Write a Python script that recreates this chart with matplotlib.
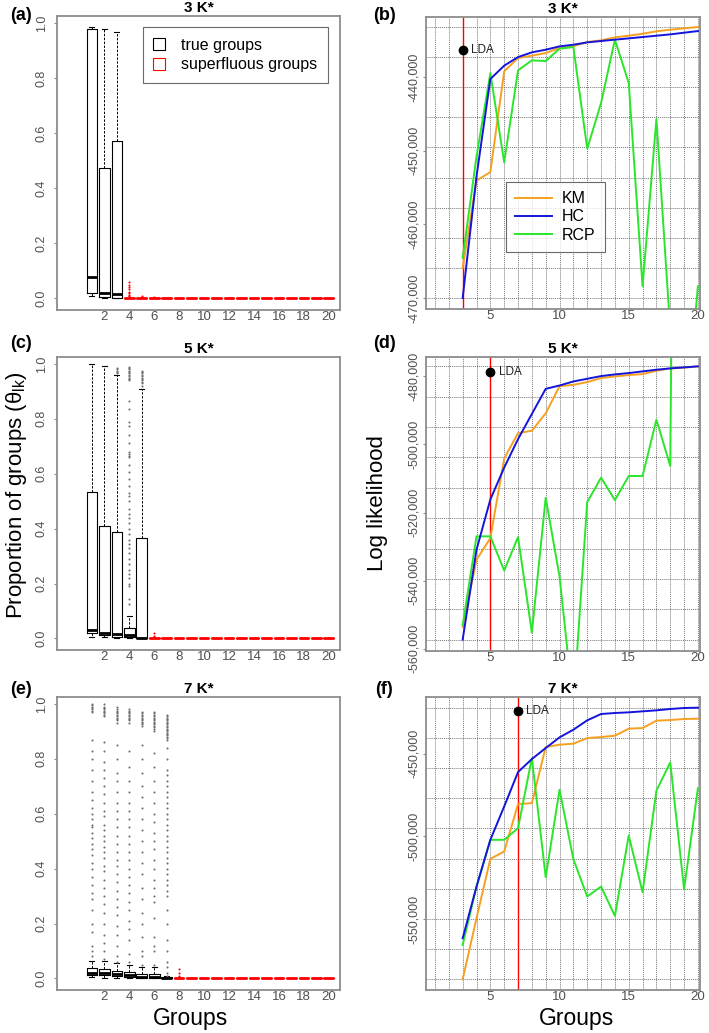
import numpy as np
import matplotlib
matplotlib.use("Agg")
import matplotlib.pyplot as plt
import matplotlib.patches as mpatches
import matplotlib.ticker as mtick

plt.rcParams["font.family"] = ["Liberation Sans", "DejaVu Sans"]
plt.rcParams["mathtext.fontset"] = "custom"
plt.rcParams["mathtext.rm"] = "Liberation Sans"
plt.rcParams["mathtext.it"] = "Liberation Sans"

W, H = 709, 1033

# ---- boxplot data (proportion of groups) ----
A_Q1 = [0.018, 0.005, 0.0]
A_MED = [0.079, 0.018, 0.015]
A_Q3 = [0.979, 0.474, 0.572]
A_LO = [0.008, 0.001, 0.0]
A_HI = [0.985, 0.978, 0.967]
A_FLIERS = [[], [], []]
A_SUP_FLIERS = [[0.004, 0.008, 0.012, 0.018, 0.025, 0.033, 0.042, 0.05, 0.06], [0.005, 0.01], [0.004]]

C_Q1 = [0.02, 0.012, 0.004, 0.004, 0.001]
C_MED = [0.03, 0.02, 0.018, 0.012, 0.002]
C_Q3 = [0.535, 0.41, 0.387, 0.038, 0.365]
C_LO = [0.007, 0.004, 0.0, 0.0, 0.0]
C_HI = [1.0, 0.994, 0.96, 0.083, 0.908]
C_FLIERS = [
    [],
    [],
    [0.965, 0.97, 0.975, 0.98, 0.985],
    [0.99, 0.985, 0.98, 0.975, 0.97, 0.965, 0.96, 0.955, 0.95, 0.945, 0.94, 0.865, 0.836,
     0.787, 0.772, 0.742, 0.713, 0.68, 0.672, 0.665, 0.66, 0.63, 0.606, 0.58, 0.555, 0.53,
     0.52, 0.5, 0.47, 0.455, 0.44, 0.42, 0.4, 0.38, 0.36, 0.345, 0.33, 0.31, 0.29, 0.27,
     0.25, 0.235, 0.22, 0.2, 0.19, 0.145, 0.127],
    [0.92, 0.93, 0.935, 0.94, 0.945, 0.95, 0.955, 0.96, 0.965, 0.97, 0.975],
]
C_SUP_FLIERS = [[0.005, 0.01, 0.02]]

E_Q1 = [0.012, 0.012, 0.009, 0.006, 0.002, 0.0, 0.0]
E_MED = [0.021, 0.021, 0.018, 0.012, 0.006, 0.004, 0.001]
E_Q3 = [0.037, 0.034, 0.028, 0.023, 0.018, 0.018, 0.004]
E_LO = [0.006, 0.002, 0.0, 0.0, 0.0, 0.0, 0.0]
E_HI = [0.065, 0.065, 0.055, 0.05, 0.04, 0.04, 0.008]
E_FLIERS = [
    [0.08, 0.1, 0.12, 0.17, 0.2, 0.25, 0.29, 0.31, 0.34, 0.37, 0.4, 0.42, 0.45, 0.47, 0.49,
     0.51, 0.53, 0.55, 0.56, 0.58, 0.6, 0.62, 0.65, 0.68, 0.72, 0.76, 0.8, 0.83, 0.87,
     0.97, 0.975, 0.98, 0.985, 0.99, 0.995, 1.0],
    [0.07, 0.1, 0.13, 0.16, 0.2, 0.24, 0.27, 0.3, 0.33, 0.36, 0.39, 0.41, 0.44, 0.46, 0.48,
     0.5, 0.52, 0.54, 0.56, 0.59, 0.61, 0.64, 0.67, 0.7, 0.73, 0.76, 0.79, 0.83, 0.86,
     0.955, 0.96, 0.965, 0.97, 0.975, 0.98, 0.985, 0.99, 0.998],
    [0.06, 0.08, 0.12, 0.16, 0.19, 0.23, 0.26, 0.29, 0.32, 0.35, 0.38, 0.41, 0.43, 0.46,
     0.49, 0.52, 0.55, 0.58, 0.61, 0.64, 0.68, 0.72, 0.75, 0.8, 0.85, 0.932, 0.94, 0.945,
     0.95, 0.955, 0.96, 0.965, 0.97, 0.975, 0.98, 0.987],
    [0.06, 0.09, 0.14, 0.18, 0.21, 0.25, 0.28, 0.31, 0.34, 0.37, 0.4, 0.43, 0.46, 0.49,
     0.52, 0.55, 0.58, 0.61, 0.64, 0.68, 0.72, 0.77, 0.83, 0.932, 0.94, 0.945, 0.95, 0.955,
     0.96, 0.965, 0.97, 0.975, 0.98],
    [0.05, 0.08, 0.1, 0.15, 0.2, 0.24, 0.29, 0.33, 0.38, 0.42, 0.46, 0.5, 0.54, 0.58, 0.62,
     0.66, 0.7, 0.75, 0.8, 0.85, 0.92, 0.925, 0.93, 0.935, 0.94, 0.945, 0.95, 0.955, 0.96,
     0.965, 0.97],
    [0.05, 0.1, 0.12, 0.15, 0.22, 0.28, 0.3, 0.33, 0.36, 0.4, 0.43, 0.47, 0.5, 0.53, 0.57,
     0.6, 0.64, 0.68, 0.72, 0.77, 0.82, 0.903, 0.91, 0.915, 0.92, 0.925, 0.93, 0.935, 0.94,
     0.945, 0.95, 0.955, 0.96, 0.965, 0.97],
    [0.01, 0.02, 0.04, 0.06, 0.1, 0.14, 0.2, 0.25, 0.3, 0.32, 0.34, 0.36, 0.38, 0.4, 0.42,
     0.44, 0.46, 0.48, 0.5, 0.52, 0.54, 0.56, 0.58, 0.6, 0.62, 0.64, 0.66, 0.68, 0.7, 0.72,
     0.74, 0.76, 0.8, 0.84, 0.867, 0.875, 0.88, 0.885, 0.89, 0.895, 0.9, 0.905, 0.91,
     0.915, 0.92, 0.925, 0.93, 0.935, 0.94, 0.945, 0.95, 0.955, 0.96],
]
E_SUP_FLIERS = [[0.005, 0.01, 0.02, 0.035]]

# ---- log likelihood data ----
GROUPS = list(range(3, 21))

B_KM = [-465930, -454070, -452900, -439230, -437420, -437100, -436740, -436060, -435830,
        -435250, -435020, -434620, -434390, -434120, -433800, -433570, -433390, -433210]
B_HC = [-470000, -453500, -440270, -438460, -437290, -436650, -436290, -435840, -435610,
        -435300, -435110, -434930, -434750, -434570, -434390, -434210, -433980, -433760]
B_RCP = [-464570, -450800, -439460, -451580, -439100, -437740, -437830, -436150, -435930,
         -449730, -443530, -434930, -440810, -468420, -445700, -474400, -489100, -468400]

D_KM = [-553600, -533900, -527490, -504140, -496650, -495960, -490840, -482860, -482460,
        -481670, -480490, -480000, -479610, -479310, -478330, -477640, -477440, -477040]
D_HC = [-557340, -530930, -516160, -506800, -498420, -491030, -483650, -482660, -481480,
        -480690, -479900, -479410, -479010, -478520, -478030, -477640, -477340, -477040]
D_RCP = [-553100, -527000, -527000, -537040, -527190, -555270, -515660, -538810, -577000,
         -516950, -509750, -516350, -509260, -509260, -492710, -506300, -50000, -50000]

F_KM = [-586290, -549400, -513510, -509070, -480440, -479840, -445970, -444560, -443950,
        -440520, -439920, -439110, -434880, -434480, -430040, -429640, -429030, -428830]
F_HC = [-561490, -530240, -502020, -481850, -461090, -453230, -446570, -440120, -435480,
        -429840, -426010, -425400, -425000, -424390, -423790, -422980, -422380, -422180]
F_RCP = [-565520, -530240, -502020, -502020, -494960, -452620, -524600, -471770, -513710,
         -536290, -530240, -547980, -499400, -533670, -472380, -455240, -531850, -470770]

LDA_K = [3, 5, 7]
LDA_LL = [-436380, -478720, -423990]

TITLES = ["3 K*", "5 K*", "7 K*"]
PANEL_TAGS = [["(a)", "(b)"], ["(c)", "(d)"], ["(e)", "(f)"]]

FRAME = "#8c8c8c"
TICKCOL = "#505050"
KM_COL = "#f5a020"
HC_COL = "#1414dc"
RCP_COL = "#2ae62a"
GRIDCOL = "#777777"

fig = plt.figure(figsize=(W / 100, H / 100), dpi=100)


def px_axes(l, t, r, b):
    return fig.add_axes([l / W, 1 - b / H, (r - l) / W, (b - t) / H])


def frame_style(ax, ypad):
    for s in ax.spines.values():
        s.set_color(FRAME)
        s.set_linewidth(1.3)
    ax.tick_params(axis="x", colors=FRAME, labelcolor=TICKCOL, length=0, pad=1)
    ax.tick_params(axis="y", colors=FRAME, labelcolor=TICKCOL, length=2.5, width=0.8, pad=ypad)
    plt.setp(ax.get_yticklabels(), rotation=90, va="center", ha="right")


def make_stats(q1, med, q3, lo, hi, fliers):
    return [dict(q1=a, med=b, q3=c, whislo=d, whishi=e, fliers=f)
            for a, b, c, d, e, f in zip(q1, med, q3, lo, hi, fliers)]


def draw_box(ax, q1, med, q3, lo, hi, fliers, sup_fliers, title):
    n_true = len(q1)
    true_stats = make_stats(q1, med, q3, lo, hi, fliers)
    n_sup = 20 - n_true
    sup_fl = sup_fliers + [[]] * (n_sup - len(sup_fliers))
    sup_stats = make_stats([0] * n_sup, [0] * n_sup, [0] * n_sup, [0] * n_sup,
                           [0.001] * n_sup, sup_fl)
    for stats, pos, col in [(true_stats, range(1, n_true + 1), "black"),
                            (sup_stats, range(n_true + 1, 21), "red")]:
        ax.bxp(stats, positions=list(pos), widths=0.85, capwidths=0.4,
               boxprops=dict(color=col, lw=0.8),
               medianprops=dict(color=col, lw=2.0),
               whiskerprops=dict(color=col, lw=0.7, linestyle=(0, (2.5, 1.5))),
               capprops=dict(color=col, lw=0.8),
               flierprops=dict(marker="o", markersize=1.5,
                               markerfacecolor="#707070" if col == "black" else "red",
                               markeredgecolor="none"),
               manage_ticks=False)
    ax.set_xlim(-1.8, 20.9)
    ax.set_ylim(-0.042, 1.025)
    ax.set_xticks(range(2, 21, 2))
    ax.set_xticklabels([str(v) for v in range(2, 21, 2)], fontsize=9.5)
    ax.set_yticks([0, 0.2, 0.4, 0.6, 0.8, 1.0])
    ax.set_yticklabels(["0.0", "0.2", "0.4", "0.6", "0.8", "1.0"], fontsize=9)
    frame_style(ax, ypad=4)
    ax.set_title(title, fontsize=11, fontweight="bold", pad=3)


def draw_ll(ax, km, hc, rcp, k, lda, ylim, yticks, title, legend=False):
    ax.set_xlim(0.35, 20.15)
    ax.set_ylim(*ylim)
    for xv in range(1, 21):
        ax.axvline(xv, color=GRIDCOL, lw=0.7, linestyle=(0, (1, 1)), zorder=0)
    lo = min(min(km), min(hc))
    hi = max(max(km), max(hc))
    for yv in np.linspace(lo, hi, 10):
        ax.axhline(yv, color=GRIDCOL, lw=0.7, linestyle=(0, (1, 1)), zorder=0)
    ax.axvline(k, color="red", lw=1.0, zorder=1)
    l1, = ax.plot(GROUPS, km, color=KM_COL, lw=1.4, label="KM", zorder=2)
    l2, = ax.plot(GROUPS, hc, color=HC_COL, lw=1.4, label="HC", zorder=3)
    l3, = ax.plot(GROUPS, rcp, color=RCP_COL, lw=1.4, label="RCP", zorder=2)
    ax.plot([k], [lda], "o", color="black", markersize=6, zorder=4)
    ax.text(k + 0.6, lda, "LDA", fontsize=8.5, va="center", ha="left", color="#222222")
    ax.set_xticks([5, 10, 15, 20])
    ax.set_xticklabels(["5", "10", "15", "20"], fontsize=9.5)
    ax.set_yticks(yticks)
    ax.yaxis.set_major_formatter(mtick.FuncFormatter(lambda v, p: f"{int(round(v)):,}"))
    for lab in ax.get_yticklabels():
        lab.set_fontsize(9)
    frame_style(ax, ypad=1.5)
    ax.set_title(title, fontsize=11, fontweight="bold", pad=3)
    if legend:
        leg = ax.legend(handles=[l1, l2, l3], loc="upper left", bbox_to_anchor=(0.291, 0.436),
                        borderaxespad=0, fontsize=11.5, frameon=True, fancybox=False,
                        edgecolor="#444444", handlelength=2.3, handletextpad=0.6,
                        borderpad=0.6, labelspacing=0.2)
        leg.get_frame().set_linewidth(0.8)


box_pos = [(57, 16, 340, 310), (57, 357, 340, 650), (57, 697, 340, 990)]
ll_pos = [(426, 17, 700, 309), (426, 357, 700, 651), (426, 697, 700, 990)]

ax_a = px_axes(*box_pos[0])
draw_box(ax_a, A_Q1, A_MED, A_Q3, A_LO, A_HI, A_FLIERS, A_SUP_FLIERS, TITLES[0])
ax_c = px_axes(*box_pos[1])
draw_box(ax_c, C_Q1, C_MED, C_Q3, C_LO, C_HI, C_FLIERS, C_SUP_FLIERS, TITLES[1])
ax_e = px_axes(*box_pos[2])
draw_box(ax_e, E_Q1, E_MED, E_Q3, E_LO, E_HI, E_FLIERS, E_SUP_FLIERS, TITLES[2])

h_true = mpatches.Patch(facecolor="none", edgecolor="black", lw=0.8, label="true groups")
h_sup = mpatches.Patch(facecolor="none", edgecolor="red", lw=0.8, label="superfluous groups")
leg_a = ax_a.legend(handles=[h_true, h_sup], loc="upper left", bbox_to_anchor=(0.303, 0.962),
                    borderaxespad=0, fontsize=11.5, frameon=True, fancybox=False,
                    edgecolor="#444444", handlelength=0.75, handleheight=0.75,
                    handletextpad=1.0, borderpad=0.65, labelspacing=0.3)
leg_a.get_frame().set_linewidth(0.8)

ax_b = px_axes(*ll_pos[0])
draw_ll(ax_b, B_KM, B_HC, B_RCP, LDA_K[0], LDA_LL[0], (-471500, -431850),
        [-440000, -450000, -460000, -470000], TITLES[0], legend=True)
ax_d = px_axes(*ll_pos[1])
draw_ll(ax_d, D_KM, D_HC, D_RCP, LDA_K[1], LDA_LL[1], (-560690, -474290),
        [-480000, -500000, -520000, -540000, -560000], TITLES[1])
ax_f = px_axes(*ll_pos[2])
draw_ll(ax_f, F_KM, F_HC, F_RCP, LDA_K[2], LDA_LL[2], (-592740, -415730),
        [-450000, -500000, -550000], TITLES[2])

fig.text(17 / W, 1 - 495 / H, r"Proportion of groups ($\theta_{\mathrm{lk}}$)", fontsize=16,
         rotation=90, ha="center", va="center")
fig.text(378 / W, 1 - 503 / H, "Log likelihood", fontsize=16,
         rotation=90, ha="center", va="center")
fig.text(190 / W, 1 - 1018 / H, "Groups", fontsize=16.5, ha="center", va="center")
fig.text(577 / W, 1 - 1018 / H, "Groups", fontsize=16.5, ha="center", va="center")

tag_y = [15, 343, 690]
for row, ya in enumerate(tag_y):
    fig.text(21 / W, 1 - ya / H, PANEL_TAGS[row][0], fontsize=13, fontweight="bold",
             ha="center", va="center")
    fig.text(384 / W, 1 - ya / H, PANEL_TAGS[row][1], fontsize=13, fontweight="bold",
             ha="center", va="center")

fig.savefig("out.png", dpi=100)
